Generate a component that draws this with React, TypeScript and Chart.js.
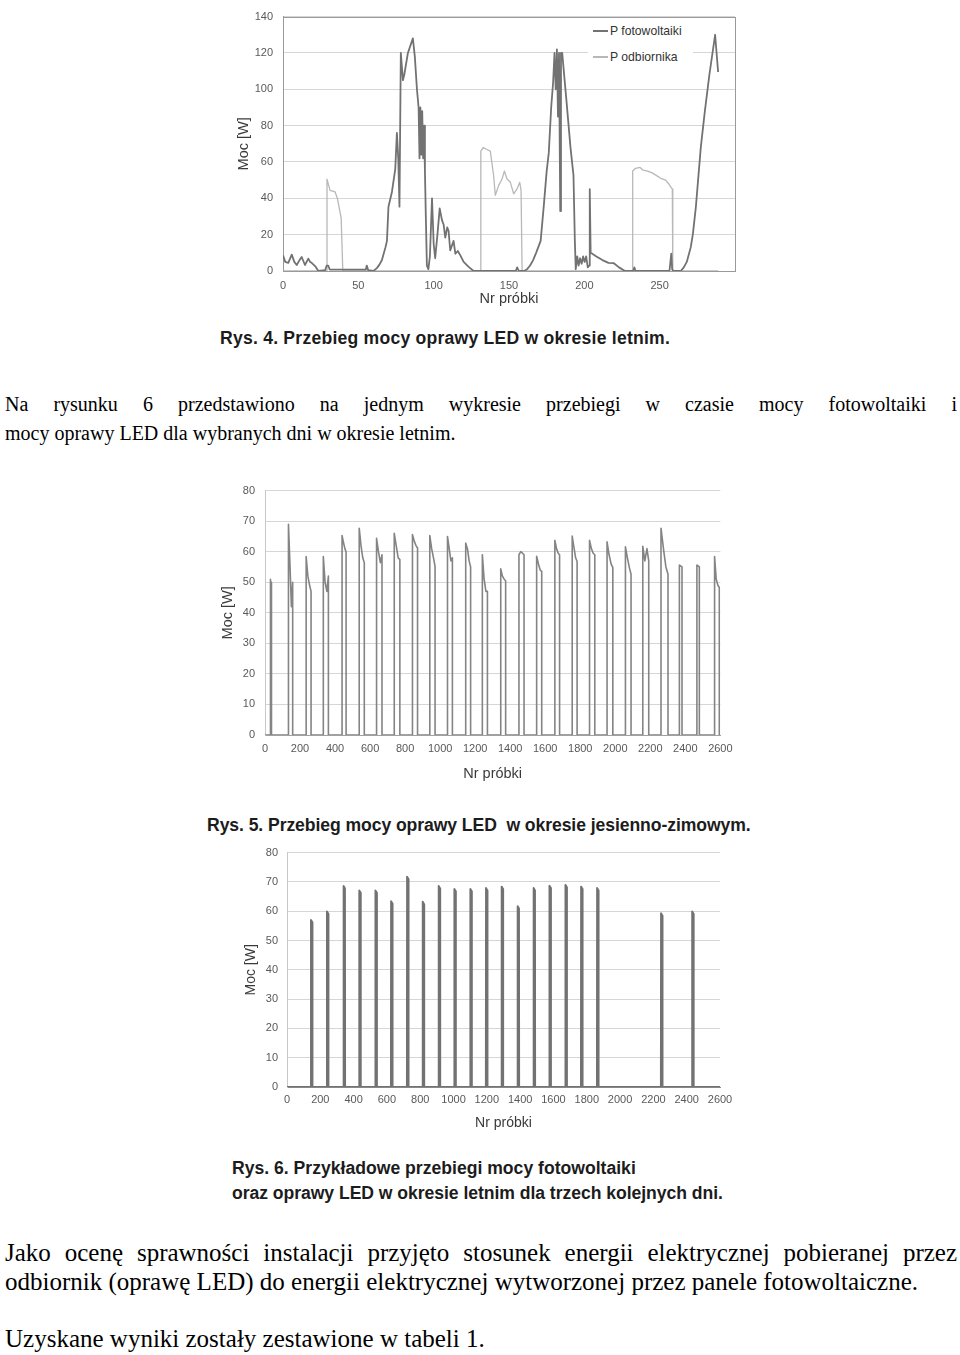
import React, { useEffect, useRef } from 'react';
import { Chart, registerables } from 'chart.js';
Chart.register(...registerables);

const SANS = "'Liberation Sans', Arial, sans-serif";
const SERIF = "'Liberation Serif', 'Times New Roman', serif";
const TICK = '#595959';
const TITLE = '#3a3a3a';
const GRID = '#d6d6d6';

// ---------- Rys. 4 (top chart) ----------
const fig4XTicks = [0, 50, 100, 150, 200, 250];
const fig4YTicks = [0, 20, 40, 60, 80, 100, 120, 140];
const pvX = [0, 1.5, 3.5, 5.8, 7.5, 9.1, 11, 12.4, 14.6, 16.8, 18, 19, 21.3, 23.5, 28, 29, 30, 31, 55, 55.6, 56.5, 60, 62.3, 64, 65.6, 67, 68, 69, 70, 72.3, 74.5, 75.6, 76.5, 77.3, 78.2, 79.6, 80.5, 82.9, 86.2, 87.5, 88.9, 90, 90.6, 91.2, 91.8, 92.4, 93, 93.6, 94.2, 94.8, 95.5, 96.5, 97.5, 98.9, 100, 101, 102.5, 104, 105.5, 106.6, 107.7, 109, 109.9, 111, 113.2, 114.4, 116, 117.7, 119.9, 123.2, 126.5, 154.5, 155.4, 156.5, 160, 162, 164, 166, 168, 171, 173, 175, 176.4, 178, 179.3, 180.2, 181, 181.8, 182.5, 183.2, 184, 184.5, 185.3, 188, 190.8, 192.8, 193.7, 194.3, 195.3, 196.2, 197.2, 198.2, 199.2, 200.2, 201.2, 202.3, 203.2, 203.6, 204.2, 205, 208, 212, 216, 219.6, 223, 227, 232.5, 233.2, 234, 256.5, 257.7, 258.3, 259, 264, 266, 268, 270.6, 272, 274, 277.3, 280, 283, 286.8, 288.8];
const pvY = [8.6, 5, 4.5, 9, 5, 3.3, 6, 7.7, 3.3, 6.8, 5, 4.5, 2.7, 0, 0.5, 3, 3, 0.8, 0.8, 3, 0.5, 0, 1.6, 3.5, 5.9, 10, 13, 16.6, 35.4, 43.5, 56, 76, 62, 35.4, 120, 105, 108, 120, 128, 118, 100, 90, 62, 90, 64, 88, 62, 80, 55, 30, 3, 1, 8, 40, 15, 7, 20, 34.5, 28, 25.6, 18.4, 24, 22, 11.3, 16.6, 9.5, 11, 8.6, 5, 2.3, 0, 0, 2, 0, 0, 1, 3, 6, 10, 16.6, 35, 55, 65, 90, 104, 120, 100, 122, 85, 120, 33, 120, 120, 95, 68, 52.6, 16.6, 1, 8, 3, 7, 4, 8, 5, 8, 2, 3, 45, 10, 9.6, 8, 6, 4.5, 4.3, 2, 0, 0, 2, 0, 0, 9.6, 1, 0, 0, 2, 5, 13, 20, 35, 68, 88, 108, 130, 109.5];
const ledX = [0, 29, 29.2, 31.2, 34.6, 36.1, 38.6, 39.7, 131, 131.3, 133, 135, 137.6, 139.8, 140.9, 143.1, 145.4, 146.9, 148.7, 150.9, 153.1, 155.4, 157.1, 158, 158.7, 231.8, 232.1, 234, 237, 239, 242, 245, 248, 250.7, 254, 256, 258.4, 258.7, 289];
const ledY = [0, 0, 50.6, 44.4, 43.5, 39.9, 29.1, 0, 0, 66, 68, 67, 66, 52.4, 41.7, 47, 50.6, 55, 50.6, 48.8, 42.5, 45.2, 48.8, 44.5, 0, 0, 55, 56.5, 57, 55.5, 55, 54, 52.5, 51, 50, 48, 45, 0, 0];

// ---------- Rys. 5 (middle chart) ----------
const fig5XTicks = [0, 200, 400, 600, 800, 1000, 1200, 1400, 1600, 1800, 2000, 2200, 2400, 2600];
const fig5YTicks = [0, 10, 20, 30, 40, 50, 60, 70, 80];
const nightStart = [30, 134, 235, 333, 440, 538, 637, 738, 842, 941, 1042, 1146, 1241, 1346, 1450, 1551, 1655, 1754, 1853, 1953, 2058, 2157, 2261, 2366, 2466, 2567];
const nightEnd = [37, 158, 263, 362, 463, 567, 668, 770, 871, 971, 1070, 1174, 1270, 1374, 1479, 1580, 1682, 1782, 1883, 1986, 2090, 2191, 2301, 2381, 2480, 2594];
const nightPeak = [51, 69, 58.4, 58.4, 65.3, 67.7, 64.4, 66, 65.6, 65.3, 65, 62.8, 59, 54.4, 59, 58.5, 63.7, 65.1, 63.7, 63.2, 61.6, 61.8, 67.7, 55.6, 55.6, 58.4];
const nightMid = [50.5, 56, 52, 50, 63, 62, 60, 62, 63.5, 61, 61, 61, 51, 52, 60, 56, 61, 61.5, 61, 59, 58, 57, 61, 55.4, 55.4, 51];
const nightLate = [50, 42, 49, 47, 61, 58, 56.4, 58, 62, 58, 57, 57, 47, 51, 59.5, 54, 59.5, 58, 59.5, 56, 54.8, 61, 55, 55.2, 55.2, 49];
const nightLast = [50, 50, 47, 52, 60, 56.4, 59, 57.4, 61.2, 55.2, 58, 55, 47, 50.5, 59, 53.6, 59, 56.8, 59, 54.8, 52.6, 57, 52.6, 55, 55, 48.3];

// ---------- Rys. 6 (bottom chart) ----------
const fig6XTicks = [0, 200, 400, 600, 800, 1000, 1200, 1400, 1600, 1800, 2000, 2200, 2400, 2600];
const fig6YTicks = [0, 10, 20, 30, 40, 50, 60, 70, 80];
const spikeAt = [148, 244, 344, 438, 535, 629, 725, 819, 915, 1009, 1105, 1199, 1293, 1389, 1485, 1580, 1676, 1770, 1866, 2250, 2437];
const spikePeak = [57, 59.9, 68.6, 67.1, 67.1, 63.4, 71.8, 63.2, 68.6, 67.6, 67.6, 67.9, 68.4, 61.7, 67.9, 68.7, 69, 68.4, 67.9, 59.3, 59.9];

function pairs(xs: number[], ys: number[]) {
  return xs.map((x, i) => ({ x, y: ys[i] }));
}

function buildNights() {
  const pts: { x: number; y: number }[] = [{ x: 0, y: 0 }];
  nightStart.forEach((s, i) => {
    const e = nightEnd[i];
    const w = e - s;
    pts.push({ x: s, y: 0 }, { x: s, y: nightPeak[i] }, { x: s + w * 0.35, y: nightMid[i] }, { x: s + w * 0.7, y: nightLate[i] }, { x: e, y: nightLast[i] }, { x: e, y: 0 });
  });
  pts.push({ x: 2600, y: 0 });
  return pts;
}

function buildSpikes() {
  const pts: { x: number; y: number }[] = [{ x: 0, y: 0 }];
  spikeAt.forEach((p, i) => {
    pts.push({ x: p - 5, y: 0 }, { x: p - 4, y: spikePeak[i] }, { x: p + 4, y: spikePeak[i] - 0.8 }, { x: p + 5, y: 0 });
  });
  pts.push({ x: 2600, y: 0 });
  return pts;
}

const framePlugin = (color: string) => ({
  id: 'frame',
  beforeDatasetsDraw(chart: any) {
    const { ctx, chartArea: a } = chart;
    ctx.save();
    ctx.strokeStyle = color;
    ctx.lineWidth = 1;
    ctx.strokeRect(Math.round(a.left) + 0.5, Math.round(a.top) + 0.5, Math.round(a.right - a.left), Math.round(a.bottom - a.top));
    ctx.restore();
  },
});

type Opt = {
  xMax: number; yMax: number; xTicks: number[]; yTicks: number[];
  yW: number; xH: number; padTop: number; padRight: number;
  xTickPad: number; yTickPad: number; xTitlePad: number; yTitlePad: number;
  titleSize: number; yBorder: string; xBorder: string;
};

function makeOptions(p: Opt): any {
  return {
    responsive: false,
    animation: false,
    devicePixelRatio: 1,
    layout: { padding: { left: 0, top: p.padTop, right: p.padRight, bottom: 0 } },
    plugins: { legend: { display: false }, tooltip: { enabled: false } },
    elements: { point: { radius: 0 }, line: { tension: 0, borderJoinStyle: 'round' } },
    scales: {
      x: {
        type: 'linear', min: 0, max: p.xMax,
        afterBuildTicks: (s: any) => { s.ticks = p.xTicks.map((v) => ({ value: v })); },
        afterFit: (s: any) => { s.height = p.xH; },
        grid: { display: false, drawTicks: false },
        border: { display: true, color: p.xBorder, width: 1 },
        ticks: { padding: p.xTickPad, color: TICK, font: { family: SANS, size: 11 }, maxRotation: 0, autoSkip: false, callback: (v: any) => String(v) },
        title: { display: true, text: 'Nr próbki', color: TITLE, font: { family: SANS, size: p.titleSize }, padding: { top: 0, bottom: p.xTitlePad } },
      },
      y: {
        type: 'linear', min: 0, max: p.yMax,
        afterBuildTicks: (s: any) => { s.ticks = p.yTicks.map((v) => ({ value: v })); },
        afterFit: (s: any) => { s.width = p.yW; },
        grid: { display: true, drawTicks: false, color: GRID, lineWidth: 1 },
        border: { display: true, color: p.yBorder, width: 1 },
        ticks: { padding: p.yTickPad, color: TICK, font: { family: SANS, size: 11 }, autoSkip: false, callback: (v: any) => String(v) },
        title: { display: true, text: 'Moc [W]', color: TITLE, font: { family: SANS, size: p.titleSize }, padding: { top: p.yTitlePad, bottom: 0 } },
      },
    },
  };
}

function ChartBox({ left, top, width, height, config }: { left: number; top: number; width: number; height: number; config: any }) {
  const ref = useRef<HTMLCanvasElement>(null);
  useEffect(() => {
    const c = new Chart(ref.current as HTMLCanvasElement, config);
    return () => c.destroy();
  }, []);
  return <canvas ref={ref} width={width} height={height} style={{ position: 'absolute', left, top, width, height }} />;
}

const fig4Config = {
  type: 'line',
  data: {
    datasets: [
      { label: 'P fotowoltaiki', data: pairs(pvX, pvY), borderColor: '#727272', borderWidth: 1.8 },
      { label: 'P odbiornika', data: pairs(ledX, ledY), borderColor: '#b8b8b8', borderWidth: 1.3 },
    ],
  },
  options: makeOptions({ xMax: 300, yMax: 140, xTicks: fig4XTicks, yTicks: fig4YTicks, yW: 53, xH: 39, padTop: 10, padRight: 15, xTickPad: 8, yTickPad: 10, xTitlePad: 2.3, yTitlePad: 5.3, titleSize: 14.5, yBorder: '#9a9a9a', xBorder: '#9a9a9a' }),
  plugins: [framePlugin('#9a9a9a')],
};

const fig5Config = {
  type: 'line',
  data: { datasets: [{ label: 'P odbiornika', data: buildNights(), borderColor: '#848484', borderWidth: 1.6 }] },
  options: makeOptions({ xMax: 2600, yMax: 80, xTicks: fig5XTicks, yTicks: fig5YTicks, yW: 55, xH: 49, padTop: 10, padRight: 18, xTickPad: 7.4, yTickPad: 10, xTitlePad: 1.3, yTitlePad: 9.3, titleSize: 14.5, yBorder: '#c8c8c8', xBorder: '#a0a0a0' }),
};

const fig6Config = {
  type: 'line',
  data: { datasets: [{ label: 'P odbiornika', data: buildSpikes(), borderColor: '#727272', borderWidth: 1.9 }] },
  options: makeOptions({ xMax: 2600, yMax: 80, xTicks: fig6XTicks, yTicks: fig6YTicks, yW: 57, xH: 50, padTop: 10, padRight: 20, xTickPad: 6.4, yTickPad: 9, xTitlePad: 5.6, yTitlePad: 12.6, titleSize: 14, yBorder: '#c8c8c8', xBorder: '#888888' }),
};

const captionStyle = (left: number, centerY: number, spacing: number): React.CSSProperties => ({
  position: 'absolute', left, top: centerY - 10, height: 20, lineHeight: '20px',
  fontFamily: SANS, fontWeight: 'bold', fontSize: 17.6, color: '#1c1c1c', whiteSpace: 'pre', letterSpacing: spacing,
});

const textLine = (centerY: number, size: number, justify: boolean): React.CSSProperties => ({
  position: 'absolute', left: 5, width: 952, top: centerY - 14.5, height: 29, lineHeight: '29px',
  fontFamily: SERIF, fontSize: size, color: '#000', whiteSpace: 'nowrap',
  textAlign: justify ? 'justify' : 'left', textAlignLast: justify ? 'justify' : 'left',
} as React.CSSProperties);

export default function App() {
  return (
    <div style={{ position: 'absolute', left: 0, top: 0, width: 960, height: 1355, background: '#fff', overflow: 'hidden' }}>
      <ChartBox left={230} top={0} width={520} height={310} config={fig4Config} />
      <div style={{ position: 'absolute', left: 588, top: 19, width: 105, height: 50, background: '#fff' }} />
      <div style={{ position: 'absolute', left: 593, top: 30, width: 15, height: 2, background: '#727272' }} />
      <div style={{ position: 'absolute', left: 593, top: 56, width: 15, height: 2, background: '#b8b8b8' }} />
      <div style={{ position: 'absolute', left: 610, top: 24, lineHeight: '14px', fontFamily: SANS, fontSize: 12.2, color: '#333' }}>P fotowoltaiki</div>
      <div style={{ position: 'absolute', left: 610, top: 50, lineHeight: '14px', fontFamily: SANS, fontSize: 12.2, color: '#333' }}>P odbiornika</div>
      <div style={captionStyle(220, 338, 0.22)}>Rys. 4. Przebieg mocy oprawy LED w okresie letnim.</div>

      <div style={textLine(404, 20, true)}>Na rysunku 6 przedstawiono na jednym wykresie przebiegi w czasie mocy fotowoltaiki i</div>
      <div style={textLine(433, 20, false)}>mocy oprawy LED dla wybranych dni w okresie letnim.</div>

      <ChartBox left={210} top={474} width={530} height={310} config={fig5Config} />
      <div style={captionStyle(207, 825, -0.08)}>{'Rys. 5. Przebieg mocy oprawy LED  w okresie jesienno-zimowym.'}</div>

      <ChartBox left={230} top={837} width={510} height={300} config={fig6Config} />
      <div style={captionStyle(232, 1168, 0)}>Rys. 6. Przykładowe przebiegi mocy fotowoltaiki</div>
      <div style={captionStyle(232, 1193, -0.05)}>oraz oprawy LED w okresie letnim dla trzech kolejnych dni.</div>

      <div style={textLine(1252, 25, true)}>Jako ocenę sprawności instalacji przyjęto stosunek energii elektrycznej pobieranej przez</div>
      <div style={textLine(1281, 25, false)}>odbiornik (oprawę LED) do energii elektrycznej wytworzonej przez panele fotowoltaiczne.</div>
      <div style={textLine(1338, 25, false)}>Uzyskane wyniki zostały zestawione w tabeli 1.</div>
    </div>
  );
}
